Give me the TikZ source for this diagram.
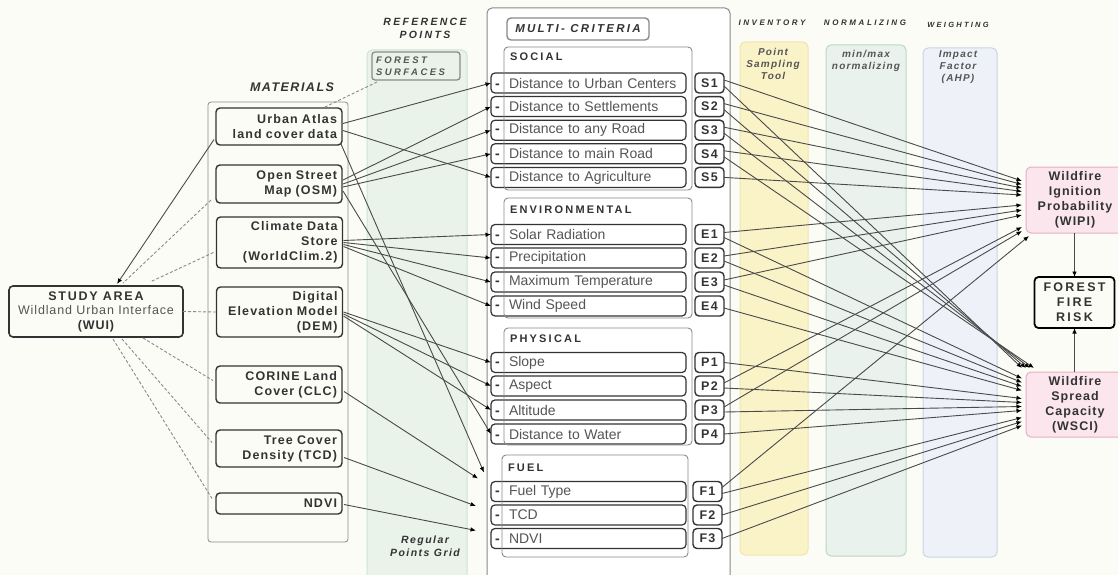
\documentclass[tikz,border=0pt]{standalone}
\usepackage{fontspec}
\setmainfont{Liberation Sans}
\usetikzlibrary{calc,arrows.meta}
\definecolor{bgc}{HTML}{FCFCF7}
\definecolor{refg}{HTML}{E9F3EA}
\definecolor{refgb}{HTML}{CFE3D3}
\definecolor{invy}{HTML}{FAF3C8}
\definecolor{invyb}{HTML}{EFE5AC}
\definecolor{norg}{HTML}{E9F2EC}
\definecolor{norgb}{HTML}{BDD6C6}
\definecolor{wgtb}{HTML}{EEF2F8}
\definecolor{wgtbb}{HTML}{C6D6E6}
\definecolor{pinkf}{HTML}{FBE6EE}
\definecolor{pinkb}{HTML}{E6AEC5}
\definecolor{boxl}{HTML}{333333}
\definecolor{lnc}{HTML}{4A4A4A}
\definecolor{grayl}{HTML}{8A8A8A}
\definecolor{txtg}{HTML}{555555}
\newcommand{\fsz}[2]{\fontsize{#1}{#2}\selectfont}
\newcommand{\lsp}[1]{\addfontfeatures{LetterSpace=#1}}
\begin{document}
\begin{tikzpicture}[x=1pt,y=-1pt,
  every node/.style={inner sep=0pt,outer sep=0pt},
  mat/.style={draw=boxl,line width=1.4pt,rounded corners=4pt,minimum width=126pt,
    inner xsep=5pt,text width=116pt,align=right,text=boxl,
    font={\fsz{12.5}{15}\bfseries\lsp{9}}},
  item/.style={draw=boxl,line width=1.2pt,rounded corners=4pt,minimum width=195pt,
    minimum height=20pt,text width=195pt,align=left,text=txtg,font={\fsz{14}{16}}},
  code/.style={draw=boxl,line width=1.4pt,rounded corners=4pt,minimum width=29pt,
    minimum height=20pt,text=boxl,font={\fsz{12.5}{15}\bfseries\lsp{10}}},
  grp/.style={draw=grayl,line width=0.9pt,rounded corners=4pt},
  grplab/.style={anchor=west,text=boxl,font={\fsz{11}{13}\bfseries\lsp{20}}},
  head/.style={text=boxl,align=center,font={\fsz{10.5}{13}\bfseries\itshape\lsp{22}}},
  smallhead/.style={text=boxl,align=center,font={\fsz{8}{10}\bfseries\itshape\lsp{32}}},
  ptext/.style={text=txtg,align=center,font={\fsz{10}{12}\bfseries\itshape\lsp{12}}},
  res/.style={draw=pinkb,fill=pinkf,line width=1pt,rounded corners=5pt,minimum width=98pt,
    align=center,text=boxl,font={\fsz{12.5}{15}\bfseries\lsp{8}}},
  arr/.style={draw=lnc,line width=0.9pt,-{Latex[length=5.5pt,width=4.5pt,color=black]}},
  dsh/.style={draw=grayl,line width=0.9pt,dash pattern=on 3pt off 2pt}]

\fill[bgc] (0,0) rectangle (1118,575);
\useasboundingbox (0,0) rectangle (1118,575);

% ---------- panels ----------
\draw[refgb,fill=refg,line width=1pt,rounded corners=5pt] (367,50) rectangle (467,580);
\draw[invyb,fill=invy,line width=1pt,rounded corners=5pt] (740,42) rectangle (808,555);
\draw[norgb,fill=norg,line width=1pt,rounded corners=5pt] (826,45) rectangle (906,556);
\draw[wgtbb,fill=wgtb,line width=1pt,rounded corners=5pt] (923,48) rectangle (997,557);
\draw[grayl,line width=0.8pt,rounded corners=3pt] (208,102) rectangle (348,542);
\draw[grayl,fill=white,line width=1pt,rounded corners=5pt] (487,8) rectangle (730,580);

% ---------- headings ----------
\node[head] (hmat) at (292,87) {\fsz{12.5}{15}\lsp{12}MATERIALS};
\node[head] (href) at (425,28.5) {REFERENCE\\POINTS};
\node[smallhead] (hinv) at (772,23) {INVENTORY};
\node[smallhead] (hnor) at (865,23) {NORMALIZING};
\node[smallhead,font={\fsz{7.5}{9}\bfseries\itshape\lsp{30}}] (hwgt) at (958,25) {WEIGHTING};
\node[ptext] (tinv) at (773,64) {Point\\Sampling\\Tool};
\node[ptext] (tnor) at (866,61) {min/max\\normalizing};
\node[ptext] (twgt) at (958,67.5) {Impact\\Factor\\(AHP)};
\node[draw=grayl,line width=1.3pt,rounded corners=3pt,fill=refg,minimum width=88pt,
  minimum height=28pt,text width=80pt,inner xsep=4pt,align=left,text=txtg,
  font={\fsz{9.5}{11.5}\bfseries\itshape\lsp{26}}] (fs) at (416,66) {FOREST\\SURFACES};
\node[head,font={\fsz{10.5}{13}\bfseries\itshape\lsp{14}}] (rpg) at (425,546.5) {Regular\\Points Grid};
\node[draw=grayl,line width=1.4pt,rounded corners=4pt,minimum width=142pt,minimum height=22pt,
  text=boxl,font={\fsz{11.5}{14}\bfseries\itshape\lsp{20}}] (mc) at (578,29) {MULTI- CRITERIA};

% ---------- study area & materials ----------
\node[draw=boxl,line width=1.6pt,rounded corners=4pt,minimum width=174pt,minimum height=51pt,
  align=center,text=boxl,font={\fsz{12.5}{14.5}\lsp{7}}] (sa) at (96,311.5)
  {{\bfseries\lsp{14}STUDY AREA}\\{\color{txtg}Wildland Urban Interface}\\{\bfseries (WUI)}};
\node[mat,minimum height=37pt] (ua) at (279,126.5) {Urban Atlas\\land cover data};
\node[mat,minimum height=38pt] (osm) at (279,184) {Open Street\\Map (OSM)};
\node[mat,minimum height=51pt] (cds) at (279.5,242.5) {Climate Data\\Store\\(WorldClim.2)};
\node[mat,minimum height=50pt] (dem) at (279.5,312) {Digital\\Elevation Model\\(DEM)};
\node[mat,minimum height=37pt] (clc) at (279,384.5) {CORINE Land\\Cover (CLC)};
\node[mat,minimum height=37pt] (tcd) at (279,448.5) {Tree Cover\\Density (TCD)};
\node[mat,minimum height=21pt] (ndvi) at (279,503.5) {NDVI};

% ---------- criteria ----------
\newcommand{\dsh}{\makebox[13pt]{\textcolor{boxl}{\bfseries -}}\hspace{5pt}}
\node[item] (s1) at (588.5,83) {\dsh Distance to Urban Centers};
\node[item] (s2) at (588.5,106.6) {\dsh Distance to Settlements};
\node[item] (s3) at (588.5,130.2) {\dsh Distance to any Road};
\node[item] (s4) at (588.5,153.8) {\dsh Distance to main Road};
\node[item] (s5) at (588.5,177.4) {\dsh Distance to Agriculture};
\node[item] (e1) at (588.5,234.5) {\dsh Solar Radiation};
\node[item] (e2) at (588.5,258) {\dsh Precipitation};
\node[item] (e3) at (588.5,282) {\dsh Maximum Temperature};
\node[item] (e4) at (588.5,306) {\dsh Wind Speed};
\node[item] (p1) at (588.5,362.5) {\dsh Slope};
\node[item] (p2) at (588.5,386) {\dsh Aspect};
\node[item] (p3) at (588.5,410) {\dsh Altitude};
\node[item] (p4) at (588.5,434) {\dsh Distance to Water};
\node[item] (f1) at (588.5,491.5) {\dsh Fuel Type};
\node[item] (f2) at (588.5,515) {\dsh TCD};
\node[item] (f3) at (588.5,538.5) {\dsh NDVI};

\node[code] (s1c) at (709.5,83) {S1};
\node[code] (s2c) at (709.5,106.6) {S2};
\node[code] (s3c) at (709.5,130.2) {S3};
\node[code] (s4c) at (709.5,153.8) {S4};
\node[code] (s5c) at (709.5,177.4) {S5};
\node[code] (e1c) at (709.5,234.5) {E1};
\node[code] (e2c) at (709.5,258) {E2};
\node[code] (e3c) at (709.5,282) {E3};
\node[code] (e4c) at (709.5,306) {E4};
\node[code] (p1c) at (709.5,362.5) {P1};
\node[code] (p2c) at (709.5,386) {P2};
\node[code] (p3c) at (709.5,410) {P3};
\node[code] (p4c) at (709.5,434) {P4};
\node[code] (f1c) at (707.5,491.5) {F1};
\node[code] (f2c) at (707.5,515) {F2};
\node[code] (f3c) at (707.5,538.5) {F3};

\draw[grp] (504,47) rectangle (692,190);
\draw[grp] (504,198) rectangle (692,318);
\draw[grp] (504,328) rectangle (692,445);
\draw[grp] (502,455) rectangle (688,557);
\node[grplab] (gsoc) at (510,57) {SOCIAL};
\node[grplab] (genv) at (510,210) {ENVIRONMENTAL};
\node[grplab] (gphy) at (510,339) {PHYSICAL};
\node[grplab] (gfue) at (508,468) {FUEL};

% ---------- results ----------
\node[res,minimum height=66pt] (wipi) at (1075,200) {Wildfire\\Ignition\\Probability\\(WIPI)};
\node[res,minimum height=65pt] (wsci) at (1075,404.5) {Wildfire\\Spread\\Capacity\\(WSCI)};
\node[draw=black,line width=1.8pt,rounded corners=4pt,minimum width=80pt,minimum height=51pt,
  align=center,text=boxl,font={\fsz{12.5}{15}\bfseries\lsp{18}}] (ffr) at (1074.5,302.5) {FOREST\\FIRE\\RISK};
\draw[arr] (ffr.north |- wipi.south) -- (ffr.north);
\draw[arr] (ffr.south |- wsci.north) -- (ffr.south);

% ---------- study area links ----------
\draw[arr] ($(ua.west)+(-2,13)$) -- ($(sa.north)+(21,-2)$);
\draw[dsh] ($(osm.west)+(-5,16)$) -- ($(sa.north)+(27,-3)$);
\draw[dsh] ($(cds.west)+(-3,10)$) -- ($(sa.north)+(54,-4)$);
\draw[dsh] (sa.east) -- (dem.west);
\draw[dsh] ($(sa.south)+(47,1)$) -- ($(clc.west)+(-3,-4)$);
\draw[dsh] ($(sa.south)+(26,2)$) -- ($(tcd.west)+(-4,-6)$);
\draw[dsh] ($(sa.south)+(17,2)$) -- ($(ndvi.west)+(-4,-5)$);
\draw[dsh] ($(fs.south west)+(5,2)$) -- ($(ua.north)+(46,-1)$);

% ---------- materials to criteria ----------
\draw[arr] ($(ua.east)+(1,-3)$) -- (s1.west);
\draw[arr] ($(ua.east)+(1,4)$) -- (s5.west);
\draw[arr] ($(osm.east)+(1,-4)$) -- (s2.west);
\draw[arr] ($(osm.east)+(1,0)$) -- (s3.west);
\draw[arr] ($(osm.east)+(1,3)$) -- (s4.west);
\draw[arr] ($(osm.east)+(1,7)$) -- (p4.west);
\draw[arr] ($(ua.south east)+(-1,-1)$) -- ($(f1.west)+(-7,-19)$);
\draw[arr] ($(cds.east)+(1,-2)$) -- (e1.west);
\draw[arr] ($(cds.east)+(1,0)$) -- (e2.west);
\draw[arr] ($(cds.east)+(1,2)$) -- (e3.west);
\draw[arr] ($(cds.east)+(1,4)$) -- (e4.west);
\draw[arr] ($(dem.east)+(1,0)$) -- (p1.west);
\draw[arr] ($(dem.east)+(1,2)$) -- (p2.west);
\draw[arr] ($(dem.east)+(1,4)$) -- (p3.west);
\draw[arr] ($(clc.east)+(2,7)$) -- ($(f1.west)+(-13,-13)$);
\draw[arr] ($(tcd.east)+(2,9)$) -- ($(f2.west)+(-15,-9)$);
\draw[arr] ($(ndvi.east)+(2,1)$) -- ($(f3.west)+(-15,-8)$);

% ---------- criteria to WIPI ----------
\draw[arr] ($(s1c.east)+(0,-3)$) -- ($(wipi.west)+(-4,-19)$);
\draw[arr] ($(s2c.east)+(0,-3)$) -- ($(wipi.west)+(-4,-15.5)$);
\draw[arr] ($(s3c.east)+(0,-3)$) -- ($(wipi.west)+(-4,-12)$);
\draw[arr] ($(s4c.east)+(0,-3)$) -- ($(wipi.west)+(-4,-8.5)$);
\draw[arr] ($(s5c.east)+(0,0)$) -- ($(wipi.west)+(-4,-5)$);
\draw[arr] ($(e1c.east)+(0,-2)$) -- ($(wipi.west)+(-4,5)$);
\draw[arr] ($(e2c.east)+(0,-2)$) -- ($(wipi.west)+(-4,10)$);
\draw[arr] ($(e3c.east)+(0,-2)$) -- ($(wipi.west)+(-4,15)$);
\draw[arr] ($(p2c.east)+(0,-3)$) -- ($(wipi.west)+(-4,27)$);
\draw[arr] ($(p3c.east)+(0,-3)$) -- ($(wipi.west)+(-4,31)$);
\draw[arr] ($(f1c.east)+(0,-4)$) -- ($(wipi.south west)+(3,3)$);

% ---------- criteria to WSCI ----------
\draw[arr] ($(s1c.east)+(0,3)$) -- ($(wsci.north west)+(-4,-4)$);
\draw[arr] ($(s2c.east)+(0,3)$) -- ($(wsci.north west)+(0,-4)$);
\draw[arr] ($(s3c.east)+(0,3)$) -- ($(wsci.north west)+(4,-4)$);
\draw[arr] ($(s4c.east)+(0,3)$) -- ($(wsci.north west)+(8,-4)$);
\draw[arr] ($(e1c.east)+(0,3)$) -- ($(wsci.west)+(-4,-26)$);
\draw[arr] ($(e2c.east)+(0,3)$) -- ($(wsci.west)+(-4,-22)$);
\draw[arr] ($(e3c.east)+(0,3)$) -- ($(wsci.west)+(-4,-18)$);
\draw[arr] ($(e4c.east)+(0,2)$) -- ($(wsci.west)+(-4,-14)$);
\draw[arr] ($(p1c.east)+(0,0)$) -- ($(wsci.west)+(-4,-6)$);
\draw[arr] ($(p2c.east)+(0,2)$) -- ($(wsci.west)+(-4,-2)$);
\draw[arr] ($(p3c.east)+(0,2)$) -- ($(wsci.west)+(-4,2)$);
\draw[arr] ($(p4c.east)+(0,0)$) -- ($(wsci.west)+(-4,6)$);
\draw[arr] ($(f1c.east)+(0,2)$) -- ($(wsci.west)+(-4,13)$);
\draw[arr] ($(f2c.east)+(0,0)$) -- ($(wsci.west)+(-4,17)$);
\draw[arr] ($(f3c.east)+(0,0)$) -- ($(wsci.west)+(-4,21)$);
\end{tikzpicture}
\end{document}
